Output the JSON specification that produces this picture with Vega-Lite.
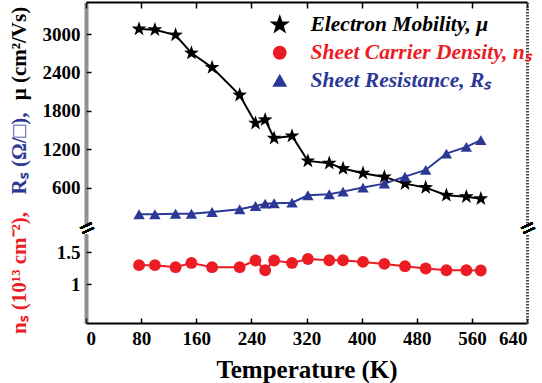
{
  "$schema": "https://vega.github.io/schema/vega-lite/v6.json",
  "padding": {"left": 8, "top": 1, "right": 5, "bottom": 5},
  "background": "white",
  "bounds": "flush",
  "config": {
    "view": {"stroke": null},
    "font": "'Liberation Serif', 'Times New Roman', serif",
    "axis": {"labelFont": "'Liberation Serif', 'Times New Roman', serif", "labelFontWeight": "bold", "labelFontSize": 19, "labelColor": "#000", "titleFont": "'Liberation Serif', 'Times New Roman', serif", "titleFontWeight": "bold", "titleColor": "#000", "grid": false, "domainColor": "#000", "tickColor": "#000"},
    "legend": {"labelFont": "'Liberation Serif', 'Times New Roman', serif"}
  },
  "data": {"values": [
    {"s": "mu", "T": 77, "v": 3078}, {"s": "mu", "T": 100, "v": 3067}, {"s": "mu", "T": 130, "v": 2984}, {"s": "mu", "T": 153, "v": 2702}, {"s": "mu", "T": 183, "v": 2477},
    {"s": "mu", "T": 223, "v": 2045}, {"s": "mu", "T": 246, "v": 1607}, {"s": "mu", "T": 260, "v": 1659}, {"s": "mu", "T": 273, "v": 1372}, {"s": "mu", "T": 299, "v": 1408},
    {"s": "mu", "T": 322, "v": 1017}, {"s": "mu", "T": 353, "v": 981}, {"s": "mu", "T": 373, "v": 897}, {"s": "mu", "T": 402, "v": 825}, {"s": "mu", "T": 433, "v": 767},
    {"s": "mu", "T": 463, "v": 662}, {"s": "mu", "T": 493, "v": 600}, {"s": "mu", "T": 523, "v": 480}, {"s": "mu", "T": 552, "v": 458}, {"s": "mu", "T": 573, "v": 427},
    {"s": "rs", "T": 77, "v": 183}, {"s": "rs", "T": 100, "v": 183}, {"s": "rs", "T": 130, "v": 192}, {"s": "rs", "T": 153, "v": 192}, {"s": "rs", "T": 183, "v": 219},
    {"s": "rs", "T": 223, "v": 261}, {"s": "rs", "T": 246, "v": 313}, {"s": "rs", "T": 260, "v": 349}, {"s": "rs", "T": 273, "v": 355}, {"s": "rs", "T": 299, "v": 365},
    {"s": "rs", "T": 322, "v": 480}, {"s": "rs", "T": 353, "v": 496}, {"s": "rs", "T": 373, "v": 537}, {"s": "rs", "T": 402, "v": 600}, {"s": "rs", "T": 433, "v": 662},
    {"s": "rs", "T": 463, "v": 771}, {"s": "rs", "T": 493, "v": 876}, {"s": "rs", "T": 523, "v": 1131}, {"s": "rs", "T": 552, "v": 1236}, {"s": "rs", "T": 573, "v": 1341},
    {"s": "ns", "T": 77, "v": 1.30}, {"s": "ns", "T": 100, "v": 1.30}, {"s": "ns", "T": 130, "v": 1.268}, {"s": "ns", "T": 153, "v": 1.334}, {"s": "ns", "T": 183, "v": 1.268},
    {"s": "ns", "T": 223, "v": 1.268}, {"s": "ns", "T": 246, "v": 1.372}, {"s": "ns", "T": 260, "v": 1.221}, {"s": "ns", "T": 273, "v": 1.372}, {"s": "ns", "T": 299, "v": 1.334},
    {"s": "ns", "T": 322, "v": 1.396}, {"s": "ns", "T": 353, "v": 1.376}, {"s": "ns", "T": 373, "v": 1.376}, {"s": "ns", "T": 402, "v": 1.35}, {"s": "ns", "T": 433, "v": 1.319},
    {"s": "ns", "T": 463, "v": 1.283}, {"s": "ns", "T": 493, "v": 1.248}, {"s": "ns", "T": 523, "v": 1.221}, {"s": "ns", "T": 552, "v": 1.221}, {"s": "ns", "T": 573, "v": 1.217}
  ]},
  "spacing": 7,
  "resolve": {"scale": {"color": "independent", "fill": "independent", "shape": "independent", "size": "independent"}},
  "vconcat": [
    {
      "width": 441, "height": 224,
      "transform": [{"filter": "datum.s != 'ns'"}],
      "layer": [
        {
          "mark": {"type": "line", "strokeWidth": 2},
          "encoding": {
            "x": {"field": "T", "type": "quantitative", "scale": {"domain": [0, 640], "nice": false},
                  "axis": {"orient": "top", "values": [0,40,80,120,160,200,240,280,320,360,400,440,480,520,560,600,640], "labels": false, "tickSize": -6, "tickWidth": 1.5, "domainWidth": 2, "title": null}},
            "y": {"field": "v", "type": "quantitative", "scale": {"domain": [0, 3500], "nice": false, "zero": false},
                  "axis": {"orient": "left", "values": [600, 1200, 1800, 2400, 3000], "format": "d", "tickSize": -5, "tickWidth": 1.5, "labelPadding": 11, "domainWidth": 4, "domainDash": [1, 1], "domainColor": "#222",
                           "title": "μ (cm²/Vs)", "titleFontSize": 21, "titleX": -61, "titleY": 51, "titleAngle": -90, "titleBaseline": "alphabetic", "titleAlign": "center"}},
            "color": {"field": "s", "type": "nominal", "scale": {"domain": ["mu", "ns", "rs"], "range": ["#000000", "#ec1c24", "#2b3896"]},
                      "legend": {"orient": "none", "legendX": 183, "legendY": 12, "title": null, "labelFontSize": 21.5, "labelFontWeight": "bold", "labelFontStyle": "italic", "labelLimit": 400,
                                 "symbolSize": 729, "symbolStrokeWidth": 2, "symbolOpacity": 1, "labelOffset": 20, "rowPadding": 5,
                                 "labelExpr": "datum.value == 'mu' ? 'Electron Mobility, μ' : datum.value == 'ns' ? 'Sheet Carrier Density, nₛ' : 'Sheet Resistance, Rₛ'",
                                 "encode": {
                                   "symbols": {"update": {
                                     "shape": {"signal": "datum.value == 'mu' ? 'M-1.33,0H1.33M0,-0.556L0.131,-0.18L0.529,-0.172L0.211,0.069L0.327,0.45L0,0.222L-0.327,0.45L-0.211,0.069L-0.529,-0.172L-0.131,-0.18Z' : datum.value == 'ns' ? 'M-1.33,0H1.33M-0.48,0A0.48,0.48,0,1,0,0.48,0A0.48,0.48,0,1,0,-0.48,0Z' : 'M-1.33,0H1.33M0,-0.5L0.5,0.36L-0.5,0.36Z'"},
                                     "fill": {"signal": "datum.value == 'mu' ? '#000000' : datum.value == 'ns' ? '#ec1c24' : '#2b3896'"},
                                     "stroke": {"signal": "datum.value == 'mu' ? '#000000' : datum.value == 'ns' ? '#ec1c24' : '#2b3896'"},
                                     "strokeWidth": {"value": 2},
                                     "strokeOpacity": {"value": 1},
                                     "fillOpacity": {"value": 1},
                                     "opacity": {"value": 1}
                                   }},
                                   "labels": {"update": {"fill": {"signal": "datum.value == 'mu' ? '#000000' : datum.value == 'ns' ? '#ec1c24' : '#2b3896'"}}}
                                 }}}
          }
        },
        {
          "mark": {"type": "point", "filled": true, "opacity": 1},
          "encoding": {
            "x": {"field": "T", "type": "quantitative"},
            "y": {"field": "v", "type": "quantitative", "scale": {"domain": [0, 3500], "nice": false, "zero": false},
                  "axis": {"orient": "left", "labels": false, "ticks": false, "domain": false,
                           "title": "Rₛ (Ω/□),", "titleColor": "#2b3896", "titleFontSize": 21, "titleX": -61, "titleY": 151, "titleAngle": -90, "titleBaseline": "alphabetic", "titleAlign": "center"}},
            "fill": {"field": "s", "type": "nominal", "scale": {"domain": ["mu", "ns", "rs"], "range": ["#000000", "#ec1c24", "#2b3896"]}, "legend": null},
            "shape": {"field": "s", "type": "nominal", "scale": {"domain": ["mu", "ns", "rs"], "range": ["M0,-1L0.235,-0.324L0.951,-0.309L0.38,0.124L0.588,0.809L0,0.4L-0.588,0.809L-0.38,0.124L-0.951,-0.309L-0.235,-0.324Z", "circle", "triangle-up"]}, "legend": null},
            "size": {"field": "s", "type": "nominal", "scale": {"type": "ordinal", "domain": ["mu", "ns", "rs"], "range": [240, 140, 130]}, "legend": null}
          }
        },
        {
          "mark": {"type": "text", "text": "=", "angle": -25, "fontSize": 26, "fontWeight": "bold", "dy": 3, "baseline": "middle", "align": "center", "color": "#000"},
          "encoding": {
            "x": {"datum": 0, "type": "quantitative"},
            "y": {"datum": 0, "type": "quantitative", "scale": {"domain": [0, 3500], "nice": false, "zero": false},
                  "axis": {"orient": "right", "labels": false, "ticks": false, "domainDash": [1.5, 1.5], "domainWidth": 3, "domainColor": "#444", "title": null}}
          }
        },
        {
          "mark": {"type": "text", "text": "=", "angle": -25, "fontSize": 26, "fontWeight": "bold", "dy": 3, "baseline": "middle", "align": "center", "color": "#000"},
          "encoding": {
            "x": {"datum": 640, "type": "quantitative"},
            "y": {"datum": 0, "type": "quantitative", "scale": {"domain": [0, 3500], "nice": false, "zero": false}, "axis": null}
          }
        }
      ],
      "resolve": {"scale": {"y": "independent"}}
    },
    {
      "width": 441, "height": 90,
      "transform": [{"filter": "datum.s == 'ns'"}],
      "layer": [
        {
          "mark": {"type": "line", "strokeWidth": 2},
          "encoding": {
            "x": {"field": "T", "type": "quantitative", "scale": {"domain": [0, 640], "nice": false},
                  "axis": {"orient": "bottom", "values": [0,40,80,120,160,200,240,280,320,360,400,440,480,520,560,600,640], "labelExpr": "datum.value % 80 == 0 ? datum.label : ''", "tickSize": -5, "tickWidth": 1.5, "domainWidth": 2, "labelPadding": 11,
                           "title": "Temperature (K)", "titleFontSize": 25, "titlePadding": 9}},
            "y": {"field": "v", "type": "quantitative", "scale": {"domain": [0.4, 1.8], "nice": false, "zero": false},
                  "axis": {"orient": "left", "values": [1, 1.5], "format": "~g", "tickSize": -5, "tickWidth": 1.5, "labelPadding": 11, "domainWidth": 4, "domainDash": [1, 1], "domainColor": "#222",
                           "title": "nₛ (10¹³ cm⁻²),", "titleColor": "#ec1c24", "titleFontSize": 21, "titleX": -61, "titleY": 39.5, "titleAngle": -90, "titleBaseline": "alphabetic", "titleAlign": "center"}},
            "color": {"field": "s", "type": "nominal", "scale": {"domain": ["mu", "ns", "rs"], "range": ["#000000", "#ec1c24", "#2b3896"]}, "legend": null}
          }
        },
        {
          "mark": {"type": "point", "filled": true, "opacity": 1},
          "encoding": {
            "x": {"field": "T", "type": "quantitative"},
            "y": {"field": "v", "type": "quantitative", "scale": {"domain": [0.4, 1.8], "nice": false, "zero": false},
                  "axis": {"orient": "right", "labels": false, "ticks": false, "domainDash": [1.5, 1.5], "domainWidth": 3, "domainColor": "#444", "title": null}},
            "fill": {"field": "s", "type": "nominal", "scale": {"domain": ["mu", "ns", "rs"], "range": ["#000000", "#ec1c24", "#2b3896"]}, "legend": null},
            "shape": {"field": "s", "type": "nominal", "scale": {"domain": ["mu", "ns", "rs"], "range": ["M0,-1L0.235,-0.324L0.951,-0.309L0.38,0.124L0.588,0.809L0,0.4L-0.588,0.809L-0.38,0.124L-0.951,-0.309L-0.235,-0.324Z", "circle", "triangle-up"]}, "legend": null},
            "size": {"field": "s", "type": "nominal", "scale": {"type": "ordinal", "domain": ["mu", "ns", "rs"], "range": [240, 140, 130]}, "legend": null}
          }
        }
      ],
      "resolve": {"scale": {"y": "independent"}}
    }
  ]
}
